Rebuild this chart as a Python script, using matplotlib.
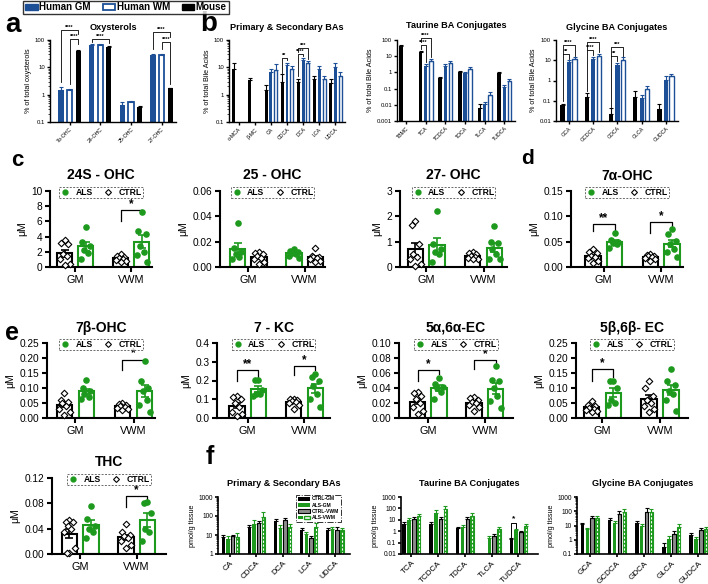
import numpy as np
import matplotlib
matplotlib.use("Agg")
import matplotlib.pyplot as plt
from matplotlib.patches import Patch
from matplotlib.lines import Line2D
from matplotlib.legend_handler import HandlerTuple
from matplotlib.ticker import LogLocator, NullFormatter

plt.rcParams["font.family"] = ["Liberation Sans", "DejaVu Sans"]

W, H = 708, 584
NAVY = "#1d4f96"
GREEN = "#1d9a1d"
GREY = "#8c8c8c"

# ---------------- panel a : oxysterols (% of total) ----------------
OXY_CATS = ["7α-OHC", "24-OHC", "25-OHC", "27-OHC"]
OXY_GM = [1.5, 65, 0.42, 28]
OXY_GM_ERR = [0.45, 6, 0.12, 2.5]
OXY_WM = [1.45, 64, 0.52, 29]
OXY_WM_ERR = [0.2, 5, 0.08, 2.5]
OXY_MOUSE = [40, 55, 0.35, 1.7]
OXY_MOUSE_ERR = [3, 5, 0.04, 0.1]
# (category, series i, series j, top, leg i, leg j, label) ; series 0=GM 1=WM 2=Mouse
OXY_SIG = [(0, 0, 2, 230, 3, 160, "****"), (0, 1, 2, 110, 2.5, 70, "****"),
           (1, 0, 2, 105, 85, 80, "****"),
           (3, 0, 2, 190, 45, 130, "****"), (3, 1, 2, 85, 45, 2.5, "****")]

# ---------------- panel b : bile acids (% of total) ----------------
PS_CATS = ["α-MCA", "β-MC", "CA", "CDCA", "DCA", "LCA", "UDCA"]
PS_MOUSE = [9, 3.5, 1.5, 3.0, 3.0, 3.8, 2.6]
PS_MOUSE_ERR = [6, 0.7, 0.7, 2.5, 0.9, 0.9, 1.0]
PS_GM = [np.nan, np.nan, 6.5, 12, 18, 9, 10]
PS_GM_ERR = [0, 0, 2, 3, 4, 2.5, 4]
PS_WM = [np.nan, np.nan, 8, 9, 14, 3.8, 5]
PS_WM_ERR = [0, 0, 5, 2, 3, 1.2, 2]
# series 0=Mouse 1=GM 2=WM
PS_SIG = [(3, 0, 1, 22, 6, 18, "**"), (4, 0, 1, 30, 5, 25, "****"),
          (4, 0, 2, 50, 36, 21, "***")]

TAU_CATS = ["TBMC", "TCA", "TCDCA", "TDCA", "TLCA", "TUDCA"]
TAU_MOUSE = [40, 18, 0.45, 1.1, 0.006, 0.95]
TAU_MOUSE_ERR = [6, 4, 0.1, 0.15, 0.006, 0.1]
TAU_GM = [np.nan, 2.6, 2.6, 0.95, 0.011, 0.13]
TAU_GM_ERR = [0, 0.7, 0.7, 0.15, 0.003, 0.04]
TAU_WM = [np.nan, 5, 4, 1.6, 0.04, 0.3]
TAU_WM_ERR = [0, 2, 1, 0.5, 0.02, 0.12]
TAU_SIG = [(1, 0, 1, 50, 28, 4.5, "****"), (1, 0, 2, 130, 75, 9, "****")]

GLY_CATS = ["GCA", "GCDCA", "GDCA", "GLCA", "GUDCA"]
GLY_MOUSE = [0.06, 0.16, 0.022, 0.16, 0.04]
GLY_MOUSE_ERR = [0.01, 0.08, 0.02, 0.15, 0.03]
GLY_GM = [8, 12, 6, 0.13, 1.1]
GLY_GM_ERR = [2, 3, 1.5, 0.06, 0.5]
GLY_WM = [12, 17, 10, 0.38, 1.6]
GLY_WM_ERR = [2, 4, 4, 0.15, 0.6]
GLY_SIG = [(0, 0, 1, 21, 0.1, 12, "**"), (0, 0, 2, 56, 21, 16, "****"),
           (1, 0, 1, 32, 0.3, 18, "****"), (1, 0, 2, 82, 32, 25, "****"),
           (2, 0, 1, 17, 0.05, 9, "**"), (2, 0, 2, 46, 17, 15, "***")]

# ---------------- panels c, d, e : individual values (µM) ----------------
# each: [GM values, VWM values]
OHC24_CTRL = [[3.5, 3.2, 3.0, 1.7, 1.4, 1.0, 0.4, 0.2], [1.7, 1.5, 1.3, 1.2, 1.0, 0.9, 0.8, 0.6]]
OHC24_ALS = [[5.3, 3.3, 2.8, 2.2, 1.8, 1.0], [7.2, 4.7, 4.3, 2.8, 2.0, 1.6, 0.6]]
OHC24_SIG = [(1, 7.5, 6.0, 7.3, "*")]

OHC25_CTRL = [[0.012, 0.011, 0.010, 0.009, 0.007, 0.006, 0.004, 0.002],
              [0.015, 0.009, 0.008, 0.008, 0.007, 0.006, 0.005, 0.004]]
OHC25_ALS = [[0.035, 0.015, 0.012, 0.010, 0.008, 0.006],
             [0.014, 0.013, 0.012, 0.011, 0.010, 0.009, 0.007]]

OHC27_CTRL = [[1.8, 1.65, 0.9, 0.5, 0.4, 0.3, 0.1, 0.05], [0.6, 0.55, 0.5, 0.45, 0.4, 0.35, 0.3, 0.3]]
OHC27_ALS = [[2.2, 0.9, 0.7, 0.6, 0.5, 0.2], [1.6, 1.0, 0.95, 0.7, 0.5, 0.3, 0.3]]

OHC7A_CTRL = [[0.035, 0.030, 0.027, 0.022, 0.020, 0.017, 0.012, 0.008],
              [0.025, 0.024, 0.022, 0.021, 0.020, 0.018, 0.016, 0.012]]
OHC7A_ALS = [[0.067, 0.053, 0.050, 0.048, 0.045, 0.037],
             [0.075, 0.066, 0.052, 0.045, 0.035, 0.030, 0.020]]
OHC7A_SIG = [(0, 0.085, 0.071, 0.071, "**"), (1, 0.088, 0.067, 0.078, "*")]

OHC7B_CTRL = [[0.085, 0.060, 0.055, 0.050, 0.040, 0.030, 0.020, 0.010],
              [0.050, 0.047, 0.043, 0.040, 0.038, 0.035, 0.030, 0.028]]
OHC7B_ALS = [[0.127, 0.100, 0.090, 0.080, 0.070, 0.065],
             [0.190, 0.125, 0.100, 0.090, 0.060, 0.045, 0.020]]
OHC7B_SIG = [(1, 0.195, 0.161, 0.19, "*")]

KC7_CTRL = [[0.12, 0.11, 0.10, 0.08, 0.06, 0.03, 0.02, 0.01],
            [0.10, 0.10, 0.095, 0.09, 0.085, 0.08, 0.07, 0.05]]
KC7_ALS = [[0.205, 0.205, 0.15, 0.13, 0.13, 0.12],
           [0.235, 0.22, 0.20, 0.17, 0.13, 0.10, 0.06]]
KC7_SIG = [(0, 0.254, 0.20, 0.21, "**"), (1, 0.276, 0.231, 0.254, "*")]

EC5A_CTRL = [[0.035, 0.034, 0.030, 0.025, 0.020, 0.015, 0.010, 0.006],
             [0.028, 0.027, 0.024, 0.022, 0.020, 0.018, 0.015, 0.010]]
EC5A_ALS = [[0.053, 0.046, 0.042, 0.040, 0.035, 0.025],
            [0.069, 0.051, 0.049, 0.040, 0.030, 0.023, 0.013]]
EC5A_SIG = [(0, 0.064, 0.05, 0.059, "*"), (1, 0.077, 0.065, 0.072, "*")]

EC5B_CTRL = [[0.058, 0.045, 0.040, 0.035, 0.030, 0.028, 0.025, 0.020],
             [0.125, 0.100, 0.075, 0.060, 0.050, 0.040, 0.030, 0.020]]
EC5B_ALS = [[0.125, 0.125, 0.100, 0.060, 0.050, 0.045],
            [0.165, 0.125, 0.110, 0.090, 0.080, 0.060, 0.025]]
EC5B_SIG = [(0, 0.164, 0.124, 0.138, "*")]

THC_CTRL = [[0.054, 0.050, 0.050, 0.045, 0.040, 0.035, 0.010, 0.002, 0.001],
            [0.047, 0.035, 0.030, 0.028, 0.025, 0.020, 0.015, 0.010]]
THC_ALS = [[0.076, 0.055, 0.045, 0.040, 0.035, 0.025],
           [0.082, 0.080, 0.065, 0.040, 0.035, 0.020]]
THC_SIG = [(1, 0.092, 0.074, 0.083, "*")]

# ---------------- panel f : bile acids in tissue (pmol/g) ----------------
F_LABELS = ["CTRL-GM", "ALS-GM", "CTRL-VWM", "ALS-VWM"]
FPS_CATS = ["CA", "CDCA", "DCA", "LCA", "UDCA"]
FPS_VALS = [[8, 27, 55, 18, 18], [6, 38, 24, 11, 20], [8.5, 44, 62, 7.2, 18], [8, 92, 25, 26, 19]]
FPS_ERR = [[2, 6, 15, 4, 4], [3, 20, 10, 4, 6], [2, 12, 20, 2, 8], [4, 70, 12, 15, 5]]

FTAU_CATS = ["TCA", "TCDCA", "TDCA", "TLCA", "TUDCA"]
FTAU_VALS = [[4.3, 4.3, 1.8, np.nan, 0.2], [10, 40, 2.5, 0.25, 1.3],
             [12, 12.5, 11, 0.35, 0.8], [20, 90, 21, 1.5, 2.9]]
FTAU_ERR = [[1.5, 1.5, 0.7, 0, 0.03], [4, 35, 1, 0.1, 0.3], [6, 6, 6, 0.2, 0.2], [12, 60, 15, 0.8, 1.5]]
FTAU_SIG = [(4, 0, 1, 5.6, 0.33, 2.0, "*")]

FGLY_CATS = ["GCA", "GCDCA", "GDCA", "GLCA", "GUDCA"]
FGLY_VALS = [[12, 24, 14, 0.32, 2.1], [5.6, 16, 10, 1.1, 1.1], [35, 63, 90, 2.5, 4.8], [35, 85, 95, 8.3, 5.5]]
FGLY_ERR = [[4, 8, 8, 0.3, 1], [1.5, 5, 3, 0.6, 0.4], [12, 40, 70, 1.5, 2], [15, 50, 60, 5, 2]]


fig = plt.figure(figsize=(W / 100, H / 100), dpi=100)
fig.patch.set_facecolor("white")


def px_axes(x0, y0, x1, y1):
    return fig.add_axes([x0 / W, 1 - y1 / H, (x1 - x0) / W, (y1 - y0) / H])


def style_axes(ax, lw):
    for s in ("top", "right"):
        ax.spines[s].set_visible(False)
    for s in ("left", "bottom"):
        ax.spines[s].set_linewidth(lw)
    ax.tick_params(width=lw, direction="out")


def title_px(ax, text, y_px, size):
    pos = ax.get_position()
    fig.text(pos.x0 + pos.width / 2, 1 - y_px / H, text, ha="center", va="center",
             fontsize=size, fontweight="bold")


def bracket(ax, x1, x2, ytop, y1, y2, label, fs, lw):
    ax.plot([x1, x1, x2, x2], [y1, ytop, ytop, y2], color="black", lw=lw, clip_on=False)
    ax.text((x1 + x2) / 2, ytop, label, ha="center", va="bottom", fontsize=fs,
            fontweight="bold", clip_on=False)


def log_ticks(ax, ticks, fs):
    ax.set_yscale("log")
    ax.set_ylim(ticks[0], ticks[-1])
    ax.set_yticks(ticks)
    ax.set_yticklabels([("%g" % t) for t in ticks], fontsize=fs)
    ax.yaxis.set_minor_locator(LogLocator(base=10, subs=np.arange(2, 10)))
    ax.yaxis.set_minor_formatter(NullFormatter())
    ax.tick_params(axis="y", which="major", length=2.5, pad=1)
    ax.tick_params(axis="y", which="minor", length=1.2, width=0.5)


def bar_group_panel(box, cats, vals, errs, kinds, offsets, width, ticks, xlim, ylabel, sig, tick_fs, title, title_y):
    ax = px_axes(*box)
    style_axes(ax, 1.0)
    x = np.arange(len(cats))
    for v, e, kind, off in zip(vals, errs, kinds, offsets):
        v = np.asarray(v, float)
        e = np.asarray(e, float)
        if kind == "mouse":
            ax.bar(x + off, v, width, color="black", zorder=2)
            ecol = "black"
        elif kind == "gm":
            ax.bar(x + off, v, width, color=NAVY, zorder=2)
            ecol = NAVY
        else:
            ax.bar(x + off, v, width, facecolor="white", edgecolor=NAVY, linewidth=1.0, zorder=2)
            ecol = NAVY
        ax.errorbar(x + off, v, yerr=[np.zeros_like(e), e], fmt="none", ecolor=ecol,
                    elinewidth=0.8, capsize=1.5, capthick=0.8, zorder=3)
    log_ticks(ax, ticks, 4.3)
    ax.set_xlim(*xlim)
    ax.set_xticks(x + offsets[1])
    ax.set_xticklabels(cats, rotation=45, ha="right", rotation_mode="anchor", fontsize=tick_fs)
    ax.tick_params(axis="x", length=2, pad=1.5)
    ax.set_ylabel(ylabel, fontsize=5.2, labelpad=2)
    for c, i, j, top, yi, yj, lab in sig:
        bracket(ax, c + offsets[i], c + offsets[j], top, yi, yj, lab, 4, 0.6)
    title_px(ax, title, title_y, 6.6)
    return ax


# ---------- top legend ----------
top_handles = [Patch(facecolor=NAVY, edgecolor=NAVY),
               Patch(facecolor="white", edgecolor=NAVY, linewidth=1.3),
               Patch(facecolor="black", edgecolor="black")]
leg = fig.legend(top_handles, ["Human GM", "Human WM", "Mouse"], ncol=3, loc="center",
                 bbox_to_anchor=(126 / W, 1 - 7.5 / H), frameon=True, fancybox=False,
                 edgecolor="black", handlelength=1.3, handleheight=0.55, handletextpad=0.15,
                 columnspacing=1.2, borderpad=0.2, prop={"weight": "bold", "size": 7})
leg.get_frame().set_linewidth(1.0)

# ---------- panel a ----------
ax_a = px_axes(50, 40, 176, 122)
style_axes(ax_a, 1.0)
xa = np.arange(len(OXY_CATS))
offs_a = [-0.28, 0.0, 0.28]
for v, e, kind, off in zip([OXY_GM, OXY_WM, OXY_MOUSE], [OXY_GM_ERR, OXY_WM_ERR, OXY_MOUSE_ERR],
                           ["gm", "wm", "mouse"], offs_a):
    if kind == "gm":
        ax_a.bar(xa + off, v, 0.17, color=NAVY, zorder=2)
        ec = NAVY
    elif kind == "wm":
        ax_a.bar(xa + off, v, 0.17, facecolor="white", edgecolor=NAVY, linewidth=1.3, zorder=2)
        ec = NAVY
    else:
        ax_a.bar(xa + off, v, 0.17, color="black", zorder=2)
        ec = "black"
    ax_a.errorbar(xa + off, v, yerr=[np.zeros(len(e)), e], fmt="none", ecolor=ec,
                  elinewidth=0.8, capsize=1.5, capthick=0.8, zorder=3)
log_ticks(ax_a, [0.1, 1, 10, 100], 4.3)
ax_a.set_xlim(-0.64, 3.47)
ax_a.set_xticks(xa)
ax_a.set_xticklabels(OXY_CATS, rotation=45, ha="right", rotation_mode="anchor", fontsize=3.8)
ax_a.tick_params(axis="x", length=2, pad=1.5)
ax_a.set_ylabel("% of total oxysterols", fontsize=5.2, labelpad=2)
for c, i, j, top, yi, yj, lab in OXY_SIG:
    bracket(ax_a, c + offs_a[i], c + offs_a[j], top, yi, yj, lab, 4, 0.6)
title_px(ax_a, "Oxysterols", 27, 6.6)

# ---------- panel b ----------
bar_group_panel((229, 40, 345, 122), PS_CATS, [PS_MOUSE, PS_GM, PS_WM],
                [PS_MOUSE_ERR, PS_GM_ERR, PS_WM_ERR], ["mouse", "gm", "wm"],
                [0.0, 0.3, 0.6], 0.18, [0.1, 1, 10, 100], (-0.3, 6.9),
                "% of total Bile Acids", PS_SIG, 3.8, "Primary & Secondary BAs", 27)
bar_group_panel((397, 40, 515, 121), TAU_CATS, [TAU_MOUSE, TAU_GM, TAU_WM],
                [TAU_MOUSE_ERR, TAU_GM_ERR, TAU_WM_ERR], ["mouse", "gm", "wm"],
                [0.0, 0.26, 0.52], 0.18, [0.001, 0.01, 0.1, 1, 10, 100], (-0.2, 5.8),
                "% of total Bile Acids", TAU_SIG, 3.8, "Taurine BA Conjugates", 26)
bar_group_panel((556, 40, 678, 121), GLY_CATS, [GLY_MOUSE, GLY_GM, GLY_WM],
                [GLY_MOUSE_ERR, GLY_GM_ERR, GLY_WM_ERR], ["mouse", "gm", "wm"],
                [0.0, 0.27, 0.5], 0.18, [0.01, 0.1, 1, 10, 100], (-0.27, 4.77),
                "% of total Bile Acids", GLY_SIG, 3.8, "Glycine BA Conjugates", 27)

# ---------- dot panels ----------
JITTER = [0.0, -0.065, 0.065, -0.035, 0.035, -0.09, 0.09, 0.0, -0.05]


def dot_panel(box, title, title_y, ctrl, als, yticks, ylabels, xlim, sig, als_first=False):
    ax = px_axes(*box)
    style_axes(ax, 1.5)
    for g in range(2):
        left, right = g - 0.19, g + 0.19
        spots = [(right, ctrl[g], "ctrl"), (left, als[g], "als")] if als_first else \
                [(left, ctrl[g], "ctrl"), (right, als[g], "als")]
        for xpos, pts, kind in spots:
            pts = np.asarray(pts, float)
            col = "black" if kind == "ctrl" else GREEN
            m = pts.mean()
            se = pts.std(ddof=1) / np.sqrt(len(pts))
            ax.bar(xpos, m, 0.27, facecolor="white", edgecolor=col, linewidth=1.5, zorder=1)
            ax.errorbar(xpos, m, yerr=se, fmt="none", ecolor=col, elinewidth=1.2,
                        capsize=3, capthick=1.2, zorder=3)
            xs = xpos + np.array(JITTER[:len(pts)])
            if kind == "ctrl":
                ax.scatter(xs, pts, marker="D", s=11, facecolors="white", edgecolors="black",
                           linewidths=0.8, zorder=4, clip_on=False)
            else:
                ax.scatter(xs, pts, marker="o", s=14, color=GREEN, zorder=4, clip_on=False)
    ax.set_xlim(*xlim)
    ax.set_ylim(yticks[0], yticks[-1])
    ax.set_yticks(yticks)
    ax.set_yticklabels(ylabels, fontsize=7.3)
    ax.set_xticks([0, 1])
    ax.set_xticklabels(["GM", "VWM"], fontsize=7.8)
    ax.tick_params(axis="both", length=3.5, pad=2)
    ax.set_ylabel("μM", fontsize=7.5, labelpad=3)
    handles = [Line2D([], [], marker="o", color=GREEN, ls="none", ms=3.5),
               Line2D([], [], marker="D", mfc="white", mec="black", mew=0.8, ls="none", ms=3)]
    lg = ax.legend(handles, ["ALS", "CTRL"], loc="upper center",
                   bbox_to_anchor=(0.5, 1 + 8 / (box[3] - box[1])),
                   ncol=2, frameon=True, fancybox=False, edgecolor="#444444",
                   handletextpad=0.6, columnspacing=1.2, borderpad=0.12, handlelength=1.2,
                   prop={"weight": "bold", "size": 6.2})
    lg.get_frame().set_linestyle((0, (2, 1.5)))
    lg.get_frame().set_linewidth(0.7)
    for g, top, yl, yr, lab in sig:
        bracket(ax, g - 0.19, g + 0.19, top, yl, yr, lab, 8.5, 0.9)
    title_px(ax, title, title_y, 10)
    return ax


dot_panel((50, 191, 152, 267), "24S - OHC", 175, OHC24_CTRL, OHC24_ALS,
          [0, 2, 4, 6, 8, 10], ["0", "2", "4", "6", "8", "10"], (-0.45, 1.37), OHC24_SIG)
dot_panel((220, 191, 325, 267), "25 - OHC", 175, OHC25_CTRL, OHC25_ALS,
          [0, 0.02, 0.04, 0.06], ["0.00", "0.02", "0.04", "0.06"], (-0.5, 1.36), [], als_first=True)
dot_panel((400, 191, 507, 267), "27- OHC", 175, OHC27_CTRL, OHC27_ALS,
          [0, 1, 2, 3], ["0", "1", "2", "3"], (-0.46, 1.41), [])
dot_panel((571, 191, 683, 267), "7α-OHC", 176, OHC7A_CTRL, OHC7A_ALS,
          [0, 0.05, 0.10, 0.15], ["0.00", "0.05", "0.10", "0.15"], (-0.57, 1.38), OHC7A_SIG)

dot_panel((47, 343, 155, 418), "7β-OHC", 328, OHC7B_CTRL, OHC7B_ALS,
          [0, 0.05, 0.10, 0.15, 0.20, 0.25], ["0.00", "0.05", "0.10", "0.15", "0.20", "0.25"],
          (-0.49, 1.37), OHC7B_SIG)
dot_panel((217, 343, 330, 418), "7 - KC", 328, KC7_CTRL, KC7_ALS,
          [0, 0.1, 0.2, 0.3, 0.4], ["0.0", "0.1", "0.2", "0.3", "0.4"], (-0.54, 1.45), KC7_SIG)
dot_panel((399, 343, 513, 418), "5α,6α-EC", 328, EC5A_CTRL, EC5A_ALS,
          [0, 0.02, 0.04, 0.06, 0.08, 0.10], ["0.00", "0.02", "0.04", "0.06", "0.08", "0.10"],
          (-0.52, 1.5), EC5A_SIG)
dot_panel((576, 343, 688, 418), "5β,6β- EC", 328, EC5B_CTRL, EC5B_ALS,
          [0, 0.05, 0.10, 0.15, 0.20, 0.25], ["0.00", "0.05", "0.10", "0.15", "0.20", "0.25"],
          (-0.46, 1.49), EC5B_SIG)
dot_panel((52, 478, 166, 554), "THC", 462, THC_CTRL, THC_ALS,
          [0, 0.04, 0.08, 0.12], ["0.00", "0.04", "0.08", "0.12"], (-0.5, 1.52), THC_SIG)

# ---------- panel f ----------
F_OFFS = [0.0, 0.18, 0.36, 0.54]


def f_panel(box, cats, vals, errs, ticks, xlim, title, sig, legend=False):
    ax = px_axes(*box)
    style_axes(ax, 1.2)
    x = np.arange(len(cats))
    w = 0.13
    for k, (v, e, off) in enumerate(zip(vals, errs, F_OFFS)):
        v = np.asarray(v, float)
        e = np.asarray(e, float)
        if k == 0:
            ax.bar(x + off, v, w, color="black", zorder=2)
            ec = "black"
        elif k == 1:
            ax.bar(x + off, v, w, color=GREEN, zorder=2)
            ec = GREEN
        elif k == 2:
            ax.bar(x + off, v, w, facecolor=GREY, edgecolor="black", linewidth=0.8, zorder=2)
            ec = "black"
        else:
            ax.bar(x + off, v, w, facecolor=GREEN, edgecolor=GREEN, linewidth=0.8, zorder=2)
            ax.vlines(x + off, ticks[0], v * 0.9, colors="white", linestyles=(0, (2, 1.5)),
                      linewidth=0.8, zorder=2.5)
            ec = GREEN
        ax.errorbar(x + off, v, yerr=[np.zeros_like(e), e], fmt="none", ecolor=ec,
                    elinewidth=0.8, capsize=1.5, capthick=0.8, zorder=3)
    log_ticks(ax, ticks, 4.8)
    ax.set_xlim(*xlim)
    ax.set_xticks(x + 0.27)
    ax.set_xticklabels(cats, rotation=45, ha="right", rotation_mode="anchor", fontsize=5.9)
    ax.tick_params(axis="x", length=2.5, pad=1.5)
    ax.set_ylabel("pmol/g tissue", fontsize=5.2, labelpad=2)
    for c, i, j, top, yi, yj, lab in sig:
        bracket(ax, c + F_OFFS[i], c + F_OFFS[j], top, yi, yj, lab, 6, 0.7)
    title_px(ax, title, 483, 6.6)
    if legend:
        hs = [Patch(facecolor="black"), Patch(facecolor=GREEN),
              Patch(facecolor=GREY, edgecolor="black", linewidth=0.8),
              (Patch(facecolor=GREEN, edgecolor="white", hatch="|", linewidth=0),
               Patch(facecolor="none", edgecolor=GREEN, linewidth=1.0))]
        lg = ax.legend(hs, F_LABELS, loc="upper right", bbox_to_anchor=(0.95, 1.08),
                       handler_map={tuple: HandlerTuple(ndivide=None)},
                       frameon=True, fancybox=False, edgecolor="black", handlelength=2.4,
                       handleheight=0.8, labelspacing=0.25, borderpad=0.3, handletextpad=0.5,
                       prop={"weight": "bold", "size": 3.6})
        lg.get_frame().set_linestyle("-.")
        lg.get_frame().set_linewidth(0.7)
    return ax


f_panel((218, 497, 350, 554), FPS_CATS, FPS_VALS, FPS_ERR, [1, 10, 100, 1000], (-0.2, 4.85),
        "Primary & Secondary BAs", [], legend=True)
f_panel((401, 497, 538, 554), FTAU_CATS, FTAU_VALS, FTAU_ERR, [0.01, 0.1, 1, 10, 100, 1000],
        (-0.12, 5.0), "Taurine BA Conjugates", FTAU_SIG)
f_panel((577, 497, 708, 554), FGLY_CATS, FGLY_VALS, FGLY_ERR, [0.1, 1, 10, 100, 1000],
        (-0.2, 4.62), "Glycine BA Conjugates", [])

# ---------- panel letters ----------
for letter, xp, yp, size in [("a", 13, 25, 20), ("b", 209, 24, 20), ("c", 17, 160, 16),
                             ("d", 527, 158, 15), ("e", 12, 333, 18), ("f", 210, 457, 18)]:
    fig.text(xp / W, 1 - yp / H, letter, ha="center", va="center", fontsize=size, fontweight="bold")

fig.savefig("out.png", dpi=100, facecolor="white")
